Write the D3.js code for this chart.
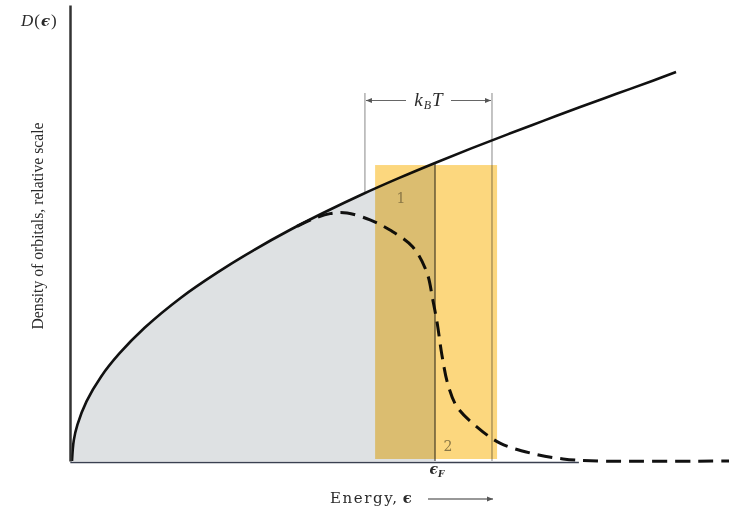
<!DOCTYPE html>
<html>
<head>
<meta charset="utf-8">
<style>
  body { margin: 0; background: #fff; }
  text { font-family: "Liberation Serif", "DejaVu Serif", serif; fill: #2b2b2b; }
  .wide { font-family: "DejaVu Serif", serif; }
</style>
</head>
<body>
<svg></svg>
<script src="https://cdnjs.cloudflare.com/ajax/libs/d3/7.8.5/d3.min.js"></script>
<script>
// density of orbitals D(e), energy in units of eF
const energy  = [0, 0.005, 0.015, 0.04, 0.08, 0.13, 0.2, 0.3, 0.4, 0.5, 0.6, 0.7, 0.8, 0.9, 1.0, 1.1, 1.2, 1.3, 1.4, 1.5, 1.6, 1.664];
const density = [0, 0.07, 0.122, 0.2, 0.283, 0.36, 0.447, 0.548, 0.632, 0.707, 0.775, 0.837, 0.895, 0.949, 1.0, 1.049, 1.096, 1.142, 1.188, 1.232, 1.276, 1.305];

// occupied orbitals at finite temperature (dashed)
const energyT  = [0.62, 0.66, 0.711, 0.758, 0.821, 0.876, 0.939, 0.978, 0.994, 1.006, 1.019, 1.036, 1.061, 1.116, 1.179, 1.262, 1.353, 1.455, 1.81];
const densityT = [0.787, 0.81, 0.83, 0.832, 0.809, 0.775, 0.718, 0.631, 0.54, 0.463, 0.356, 0.255, 0.181, 0.114, 0.06, 0.027, 0.007, 0, 0];

const fermiEnergy = 1;
const kTEdges = [0.807, 1.157];
const bandEdges = [0.835, 1.171];
const bandTop = 0.993;
const regionLabels = ["1", "2"];

const width = 738, height = 511;
const svg = d3.select('svg').attr('width', width).attr('height', height);

const x = d3.scaleLinear().domain([0, 1]).range([72, 435]);
const y = d3.scaleLinear().domain([0, 1.53]).range([461, 5]);

const solid = energy.map((e, i) => ({ e: e, d: density[i] }));
const dashed = energyT.map((e, i) => ({ e: e, d: densityT[i] }));
const densityAt = e => d3.scaleLinear().domain(energy).range(density)(e);
const smooth = d3.curveCatmullRom.alpha(0.5);

// filled orbitals at T = 0
svg.append('path')
  .datum(solid.filter(p => p.e <= fermiEnergy))
  .attr('d', d3.area().x(p => x(p.e)).y0(y(0)).y1(p => y(p.d)).curve(smooth))
  .attr('fill', '#dee1e3');

// kT bracket lines
svg.append('line')
  .attr('x1', x(kTEdges[0])).attr('x2', x(kTEdges[0]))
  .attr('y1', 93).attr('y2', y(densityAt(kTEdges[0])))
  .attr('stroke', '#888').attr('stroke-width', 1);
svg.append('line')
  .attr('x1', x(kTEdges[1])).attr('x2', x(kTEdges[1]))
  .attr('y1', 93).attr('y2', y(0))
  .attr('stroke', '#888').attr('stroke-width', 1);

// eF line
svg.append('line')
  .attr('x1', x(fermiEnergy)).attr('x2', x(fermiEnergy))
  .attr('y1', y(densityAt(fermiEnergy))).attr('y2', y(0))
  .attr('stroke', '#555').attr('stroke-width', 1.3);

// curves
svg.append('path')
  .datum(solid)
  .attr('d', d3.line().x(p => x(p.e)).y(p => y(p.d)).curve(smooth))
  .attr('fill', 'none').attr('stroke', '#111').attr('stroke-width', 2.6);

svg.append('path')
  .datum(dashed)
  .attr('d', d3.line().x(p => x(p.e)).y(p => y(p.d)).curve(smooth))
  .attr('fill', 'none').attr('stroke', '#111').attr('stroke-width', 3)
  .attr('stroke-dasharray', '15,8');

// yellow band of width ~ kT
svg.append('rect')
  .attr('x', x(bandEdges[0])).attr('width', x(bandEdges[1]) - x(bandEdges[0]))
  .attr('y', y(bandTop)).attr('height', y(0) - 2 - y(bandTop))
  .attr('fill', '#fcd77e')
  .style('mix-blend-mode', 'multiply');

// axes
const yAxis = svg.append('g').attr('transform', 'translate(70,0)')
  .call(d3.axisLeft(y).tickValues([]).tickSizeOuter(0));
yAxis.select('.domain').attr('stroke', '#333').attr('stroke-width', 2.5);

const xb = x.copy().domain([-0.006, 1.395]).range([x(-0.006), x(1.395)]);
const xAxis = svg.append('g').attr('transform', `translate(0,${y(0) + 1})`)
  .call(d3.axisBottom(xb).tickValues([]).tickSizeOuter(0));
xAxis.select('.domain').attr('stroke', '#3a4050').attr('stroke-width', 1.5);

// arrow marker
svg.append('defs').append('marker')
  .attr('id', 'arr').attr('viewBox', '0 0 10 10')
  .attr('refX', 10).attr('refY', 5)
  .attr('markerWidth', 10).attr('markerHeight', 6)
  .attr('markerUnits', 'userSpaceOnUse')
  .attr('orient', 'auto')
  .append('path').attr('d', 'M0,1 L10,5 L0,9 Z').attr('fill', '#555');

// kT arrows and label
svg.append('line').attr('x1', 406).attr('x2', x(kTEdges[0]) + 1).attr('y1', 100.5).attr('y2', 100.5)
  .attr('stroke', '#666').attr('stroke-width', 1).attr('marker-end', 'url(#arr)');
svg.append('line').attr('x1', 451).attr('x2', x(kTEdges[1]) - 1).attr('y1', 100.5).attr('y2', 100.5)
  .attr('stroke', '#666').attr('stroke-width', 1).attr('marker-end', 'url(#arr)');

const kt = svg.append('text').attr('x', 429).attr('y', 106).attr('text-anchor', 'middle')
  .style('font-size', '19px').style('font-style', 'italic').style('letter-spacing', '1px');
kt.append('tspan').text('k');
kt.append('tspan').attr('dy', 3).style('font-size', '12px').text('B');
kt.append('tspan').attr('dy', -3).text('T');

// region labels
svg.append('text').attr('class', 'wide').attr('x', 401).attr('y', 203).attr('text-anchor', 'middle')
  .style('font-size', '14px').style('fill', '#8a7745').text(regionLabels[0]);
svg.append('text').attr('class', 'wide').attr('x', 448).attr('y', 451).attr('text-anchor', 'middle')
  .style('font-size', '14px').style('fill', '#8a7745').text(regionLabels[1]);

// eF label
const ef = svg.append('text').attr('class', 'wide').attr('x', x(fermiEnergy) + 2).attr('y', 474).attr('text-anchor', 'middle')
  .style('font-size', '14px').style('font-weight', 'bold').style('font-style', 'italic');
ef.append('tspan').text('\u03F5');
ef.append('tspan').attr('dy', 3).style('font-size', '9px').text('F');

// y label
svg.append('text')
  .attr('transform', 'translate(43,226) rotate(-90)')
  .attr('text-anchor', 'middle')
  .attr('textLength', 207).attr('lengthAdjust', 'spacingAndGlyphs')
  .style('font-size', '17px')
  .text('Density of orbitals, relative scale');

// D(e) label
const dl = svg.append('text').attr('x', 21).attr('y', 26)
  .style('font-size', '17px').style('font-style', 'italic').style('letter-spacing', '1px');
dl.append('tspan').text('D');
dl.append('tspan').style('font-style', 'normal').text('(');
dl.append('tspan').attr('class', 'wide').style('font-weight', 'bold').style('font-size', '15px').text('\u03F5');
dl.append('tspan').style('font-style', 'normal').text(')');

// x label
const xl = svg.append('text').attr('class', 'wide').attr('x', 330).attr('y', 503)
  .style('font-size', '15px').style('letter-spacing', '1.6px');
xl.append('tspan').text('Energy,');
xl.append('tspan').attr('dx', 4).style('font-weight', 'bold').text('\u03F5');
svg.append('line').attr('x1', 428).attr('x2', 493).attr('y1', 499).attr('y2', 499)
  .attr('stroke', '#333').attr('stroke-width', 1.2).attr('marker-end', 'url(#arr)');
</script>
</body>
</html>
